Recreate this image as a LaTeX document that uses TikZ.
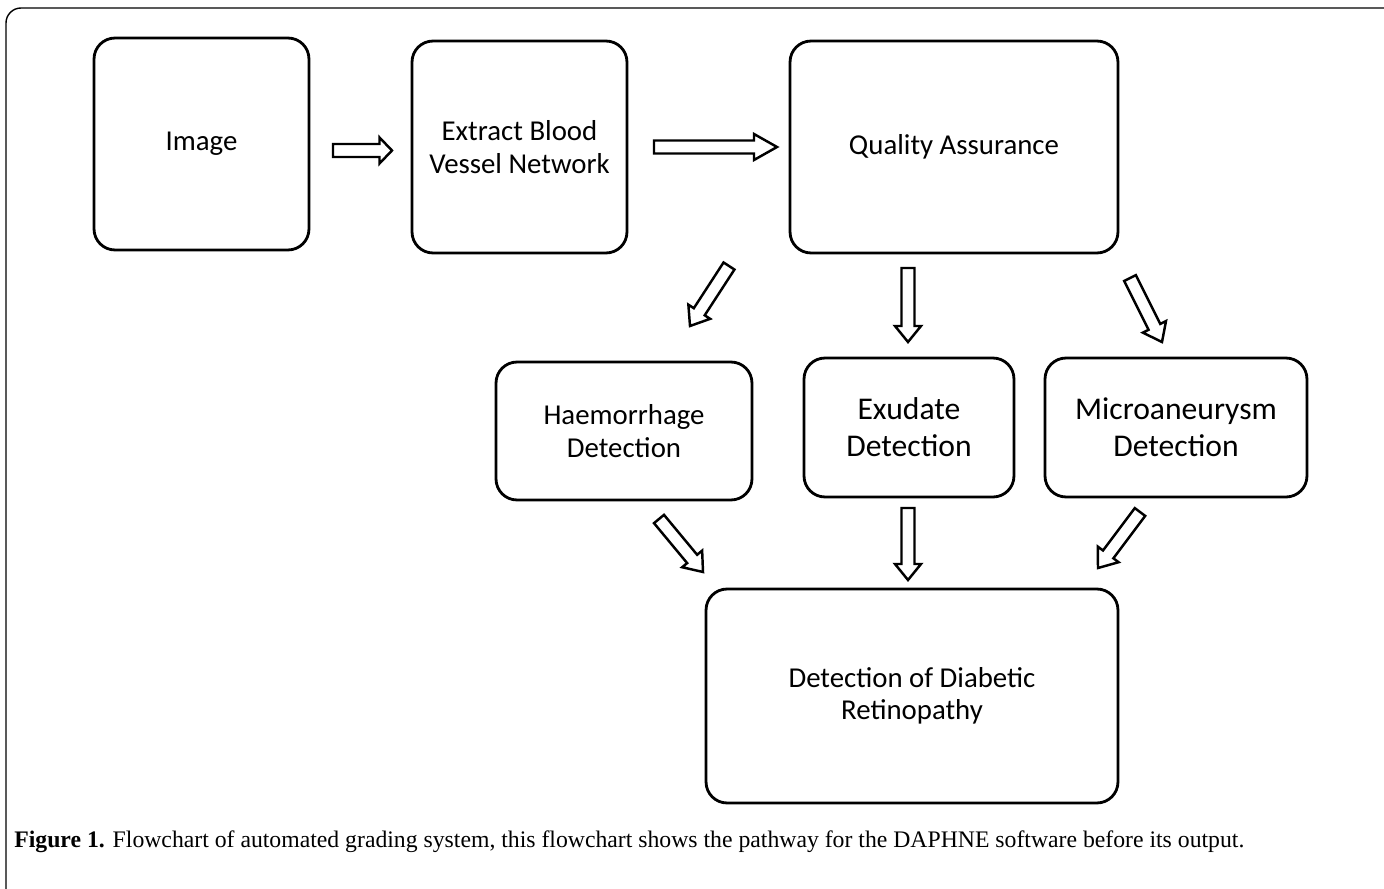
\documentclass[tikz,border=0pt]{standalone}
\usepackage{fontspec}
\setmainfont{Carlito}
\newfontfamily\capfont{Liberation Serif}
\usetikzlibrary{calc}
\tikzset{
  stage/.style={draw, line width=1.6pt, rounded corners=0.42cm, align=center, font=\fontsize{16.4}{18.5}\selectfont},
  bigtext/.style={font=\fontsize{18}{21}\selectfont},
  blockline/.style={line width=1.4pt, line join=miter}
}
% hollow block arrow [head length](tail)(tip)
\def\blockarrow[#1](#2)(#3){%
  \coordinate (neck) at ($(#3)!#1!(#2)$);
  \draw[blockline] ($(#2)!0.13cm!90:(#3)$) -- ($(neck)!0.13cm!-90:(#2)$) -- ($(neck)!0.26cm!-90:(#2)$) -- (#3) -- ($(neck)!0.26cm!90:(#2)$) -- ($(neck)!0.13cm!90:(#2)$) -- ($(#2)!0.13cm!-90:(#3)$) -- cycle;}

\begin{document}
\begin{tikzpicture}[x=0.02cm, y=-0.02cm]
			%%%%% FRAME %%%%%
			\useasboundingbox (0,0) rectangle (1384,889);
			\draw[line width=0.8pt, rounded corners=0.3cm] (6,889) -- (6,8) -- (1384,8);
			
			%%%%% BOXES %%%%%
			\node[stage, minimum width=4.3cm, minimum height=4.24cm] (img) at (201.5,144) {Image};
			\node[stage, minimum width=4.3cm, minimum height=4.24cm] (vessel) at (519.5,147) {Extract Blood\\Vessel Network};
			\node[stage, minimum width=6.56cm, minimum height=4.24cm] (qa) at (954,147) {Quality Assurance};
			
			\node[stage, minimum width=5.12cm, minimum height=2.76cm] (haem) at (624,431) {Haemorrhage\\Detection};
			\node[stage, bigtext, minimum width=4.2cm, minimum height=2.78cm] (exud) at (909,427.5) {Exudate\\Detection};
			\node[stage, bigtext, minimum width=5.24cm, minimum height=2.78cm] (micro) at (1176,427.5) {Microaneurysm\\Detection};
			
			\node[stage, minimum width=8.24cm, minimum height=4.28cm] (dr) at (912,696) {Detection of Diabetic\\Retinopathy};
			
			%%%%% ARROWS %%%%%
			\coordinate (imgout) at (333,150.5);
			\coordinate (vesselin) at (392,150.5);
			\coordinate (vesselout) at (654,147);
			\coordinate (qain) at (777,147);
			
			\coordinate (qahaem) at (729,266);
			\coordinate (haemin) at (690,326);
			\coordinate (qaexud) at (908,268);
			\coordinate (exudin) at (908,342);
			\coordinate (qamicro) at (1130,278);
			\coordinate (microin) at (1162,342);
			
			\coordinate (haemout) at (659,519);
			\coordinate (drhaem) at (703,572);
			\coordinate (exudout) at (908,508);
			\coordinate (drexud) at (908,580);
			\coordinate (microout) at (1140,512);
			\coordinate (drmicro) at (1098,568);
			
			\blockarrow[0.25cm](imgout)(vesselin)
			\blockarrow[0.46cm](vesselout)(qain)
			
			\blockarrow[0.34cm](qahaem)(haemin)
			\blockarrow[0.32cm](qaexud)(exudin)
			\blockarrow[0.34cm](qamicro)(microin)
			
			\blockarrow[0.34cm](haemout)(drhaem)
			\blockarrow[0.32cm](exudout)(drexud)
			\blockarrow[0.34cm](microout)(drmicro)
			
			%%%%% CAPTION %%%%%
			\node[anchor=west, inner sep=0pt, font=\capfont\fontsize{13.5}{16}\selectfont] (caption) at (14,842) {\textbf{Figure 1.} Flowchart of automated grading system, this flowchart shows the pathway for the DAPHNE software before its output.};
		\end{tikzpicture}
\end{document}
